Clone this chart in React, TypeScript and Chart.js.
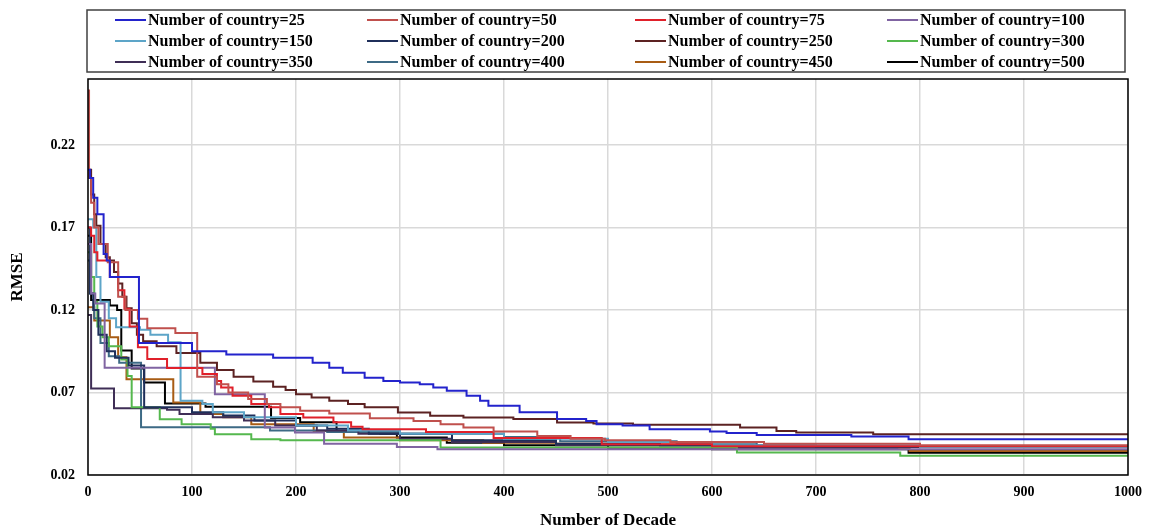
import React, { useEffect, useRef } from "react";
import { Chart, registerables } from "chart.js";

Chart.register(...registerables);

// [decade, RMSE] breakpoints (value holds until next breakpoint)
const s25: [number, number][] = [
  [0, 0.205], [2, 0.2], [5, 0.188], [9, 0.178], [15, 0.154], [18, 0.15], [21, 0.14], [49, 0.1], [100, 0.095],
  [133, 0.093], [178, 0.091], [216, 0.088], [232, 0.085], [245, 0.082], [266, 0.079], [284, 0.077], [300, 0.076],
  [319, 0.075], [332, 0.073], [345, 0.071], [364, 0.068], [377, 0.065], [385, 0.062], [415, 0.058], [451, 0.054],
  [479, 0.0528], [489, 0.0508], [514, 0.05], [540, 0.0478], [598, 0.0463], [614, 0.0455], [643, 0.0443],
  [734, 0.0433], [789, 0.0417], [1000, 0.0417],
];
const s50: [number, number][] = [
  [0, 0.253], [1, 0.2], [3, 0.185], [6, 0.17], [10, 0.16], [19, 0.149], [29, 0.128], [36, 0.12], [48, 0.1147],
  [57, 0.109], [84, 0.106], [105, 0.0796], [124, 0.075], [135, 0.07], [154, 0.066], [172, 0.063], [185, 0.061],
  [204, 0.059], [232, 0.0573], [271, 0.0544], [313, 0.0528], [339, 0.0508], [361, 0.0488], [390, 0.0463],
  [432, 0.0437], [464, 0.042], [497, 0.041], [560, 0.04], [650, 0.039], [800, 0.038], [1000, 0.038],
];
const s75: [number, number][] = [
  [0, 0.17], [3, 0.165], [6, 0.155], [9, 0.15], [21, 0.14], [29, 0.132], [35, 0.1207], [40, 0.11], [48, 0.0974],
  [57, 0.0903], [76, 0.0849], [110, 0.0812], [124, 0.077], [128, 0.073], [139, 0.068], [157, 0.063], [174, 0.061],
  [185, 0.0569], [207, 0.0549], [236, 0.052], [253, 0.0492], [264, 0.0478], [325, 0.046], [390, 0.0425],
  [494, 0.0387], [600, 0.0375], [1000, 0.037],
];
const s100: [number, number][] = [
  [0, 0.16], [3, 0.13], [7, 0.124], [16, 0.085], [122, 0.069], [170, 0.0488], [199, 0.0457], [227, 0.039],
  [297, 0.037], [336, 0.0356], [1000, 0.0356],
];
const s150: [number, number][] = [
  [0, 0.175], [5, 0.17], [8, 0.14], [12, 0.125], [20, 0.115], [27, 0.1095], [50, 0.108], [60, 0.105], [77, 0.1004],
  [89, 0.065], [110, 0.063], [120, 0.058], [150, 0.055], [200, 0.05], [250, 0.047], [300, 0.045], [400, 0.042],
  [500, 0.04], [600, 0.038], [800, 0.037], [1000, 0.037],
];
const s200: [number, number][] = [
  [0, 0.17], [2, 0.13], [5, 0.12], [10, 0.105], [18, 0.095], [26, 0.091], [39, 0.0863], [54, 0.061], [100, 0.058],
  [130, 0.056], [160, 0.053], [200, 0.05], [230, 0.048], [270, 0.045], [350, 0.041], [450, 0.039], [550, 0.038],
  [700, 0.037], [1000, 0.0365],
];
const s250: [number, number][] = [
  [0, 0.205], [3, 0.19], [6, 0.178], [8, 0.171], [12, 0.16], [17, 0.152], [21, 0.15], [25, 0.143], [29, 0.136],
  [33, 0.128], [37, 0.121], [42, 0.112], [47, 0.105], [53, 0.101], [66, 0.098], [85, 0.094], [108, 0.088],
  [124, 0.0836], [140, 0.0796], [159, 0.0766], [178, 0.0735], [190, 0.0715], [200, 0.069], [215, 0.067],
  [232, 0.065], [250, 0.063], [266, 0.061], [298, 0.0579], [329, 0.0559], [361, 0.0549], [409, 0.0539],
  [451, 0.0518], [486, 0.0512], [524, 0.0504], [627, 0.0488], [662, 0.0467], [681, 0.0457], [755, 0.0447],
  [1000, 0.0447],
];
const s300: [number, number][] = [
  [0, 0.155], [3, 0.14], [6, 0.125], [9, 0.11], [14, 0.1035], [20, 0.098], [32, 0.09], [38, 0.08], [42, 0.061],
  [69, 0.0538], [90, 0.0508], [118, 0.048], [122, 0.0447], [157, 0.0417], [185, 0.041], [339, 0.0366],
  [624, 0.0336], [781, 0.0316], [1000, 0.0316],
];
const s350: [number, number][] = [
  [0, 0.117], [3, 0.0725], [25, 0.0604], [76, 0.0595], [88, 0.0569], [120, 0.055], [150, 0.053], [180, 0.05],
  [220, 0.047], [260, 0.045], [300, 0.042], [350, 0.04], [450, 0.038], [600, 0.037], [1000, 0.036],
];
const s400: [number, number][] = [
  [0, 0.15], [2, 0.13], [6, 0.115], [12, 0.1], [20, 0.092], [30, 0.088], [51, 0.049], [175, 0.047], [230, 0.046],
  [300, 0.045], [400, 0.043], [454, 0.0405], [566, 0.0395], [643, 0.0376], [1000, 0.0376],
];
const s450: [number, number][] = [
  [0, 0.1217], [6, 0.1136], [21, 0.1035], [29, 0.0913], [37, 0.078], [82, 0.064], [108, 0.0569], [130, 0.055],
  [157, 0.0508], [217, 0.0467], [246, 0.0427], [300, 0.041], [380, 0.0395], [450, 0.039], [520, 0.0385],
  [600, 0.038], [640, 0.037], [780, 0.036], [790, 0.0346], [1000, 0.0346],
];
const s500: [number, number][] = [
  [0, 0.165], [3, 0.126], [21, 0.1227], [28, 0.12], [32, 0.0954], [42, 0.0846], [54, 0.076], [74, 0.0634],
  [113, 0.0614], [176, 0.0545], [204, 0.052], [239, 0.0467], [281, 0.045], [297, 0.0427], [345, 0.0396],
  [400, 0.038], [500, 0.0365], [600, 0.0356], [789, 0.0335], [1000, 0.0335],
];

const seriesLabels = [
  "Number of country=25", "Number of country=50", "Number of country=75", "Number of country=100",
  "Number of country=150", "Number of country=200", "Number of country=250", "Number of country=300",
  "Number of country=350", "Number of country=400", "Number of country=450", "Number of country=500",
];
const seriesData = [s25, s50, s75, s100, s150, s200, s250, s300, s350, s400, s450, s500];
const seriesColors = [
  "#2323CC", "#C0504D", "#E0202A", "#8064A2", "#5DA5C8", "#1F2F5A",
  "#5C2222", "#55B84E", "#3F2E56", "#3D6A85", "#A85C14", "#000000",
];
const yTicks = [0.02, 0.07, 0.12, 0.17, 0.22];

const FONT = "'Liberation Serif', 'Times New Roman', serif";

const legendPlugin = {
  id: "gridLegend",
  afterDraw(chart: any) {
    const ctx = chart.ctx;
    const { left, top, right, bottom } = chart.chartArea;
    ctx.save();
    // plot frame
    ctx.strokeStyle = "#000";
    ctx.lineWidth = 1.5;
    ctx.strokeRect(left, top, right - left, bottom - top);
    // legend box
    ctx.strokeStyle = "#404040";
    ctx.lineWidth = 1.5;
    ctx.strokeRect(87, 10, 1038, 62);
    const colX = [115, 367, 635, 887];
    const rowY = [20, 41, 62];
    ctx.font = `bold 16px ${FONT}`;
    ctx.textBaseline = "middle";
    ctx.textAlign = "left";
    chart.data.datasets.forEach((ds: any, i: number) => {
      const x = colX[i % 4];
      const y = rowY[Math.floor(i / 4)];
      ctx.strokeStyle = ds.borderColor;
      ctx.lineWidth = 2;
      ctx.beginPath();
      ctx.moveTo(x, y);
      ctx.lineTo(x + 31, y);
      ctx.stroke();
      ctx.fillStyle = "#000";
      ctx.fillText(ds.label, x + 33, y + 1);
    });
    ctx.restore();
  },
};

export default function App() {
  const ref = useRef<HTMLCanvasElement | null>(null);
  useEffect(() => {
    if (!ref.current) return;
    const chart = new Chart(ref.current, {
      type: "line",
      data: {
        datasets: seriesData.map((s, i) => ({
          label: seriesLabels[i],
          data: s.map(([x, y]) => ({ x, y })),
          borderColor: seriesColors[i],
          backgroundColor: seriesColors[i],
          borderWidth: 2,
          pointRadius: 0,
          stepped: true,
          fill: false,
        })),
      },
      options: {
        animation: false,
        responsive: true,
        maintainAspectRatio: false,
        layout: { padding: { top: 79, right: 23, left: 0, bottom: 0 } },
        plugins: { legend: { display: false }, tooltip: { enabled: false } },
        scales: {
          x: {
            type: "linear",
            min: 0,
            max: 1000,
            afterFit: (s: any) => { s.height = 57; },
            ticks: {
              stepSize: 100,
              padding: 9,
              color: "#000",
              font: { family: FONT, size: 14, weight: "bold" },
              maxRotation: 0,
              callback: (v: any) => String(v),
            },
            grid: { color: "#D9D9D9", lineWidth: 1.5, drawTicks: false },
            border: { display: false },
            title: {
              display: true,
              text: "Number of Decade",
              color: "#000",
              font: { family: FONT, size: 17, weight: "bold" },
              padding: { top: 0, bottom: 1 },
            },
          },
          y: {
            type: "linear",
            min: 0.02,
            max: 0.26,
            afterFit: (s: any) => { s.width = 88; },
            afterBuildTicks: (s: any) => { s.ticks = yTicks.map((v) => ({ value: v })); },
            ticks: {
              padding: 13,
              color: "#000",
              font: { family: FONT, size: 14, weight: "bold" },
              callback: (v: any) => Number(v).toFixed(2),
            },
            grid: { color: "#D9D9D9", lineWidth: 1.5, drawTicks: false },
            border: { display: false },
            title: {
              display: true,
              text: "RMSE",
              color: "#000",
              font: { family: FONT, size: 17, weight: "bold" },
              padding: { top: 7, bottom: 0 },
            },
          },
        },
      },
      plugins: [legendPlugin],
    });
    return () => chart.destroy();
  }, []);
  return (
    <div style={{ position: "absolute", left: 0, top: 0, width: 1151, height: 532, background: "#fff" }}>
      <canvas ref={ref} />
    </div>
  );
}
